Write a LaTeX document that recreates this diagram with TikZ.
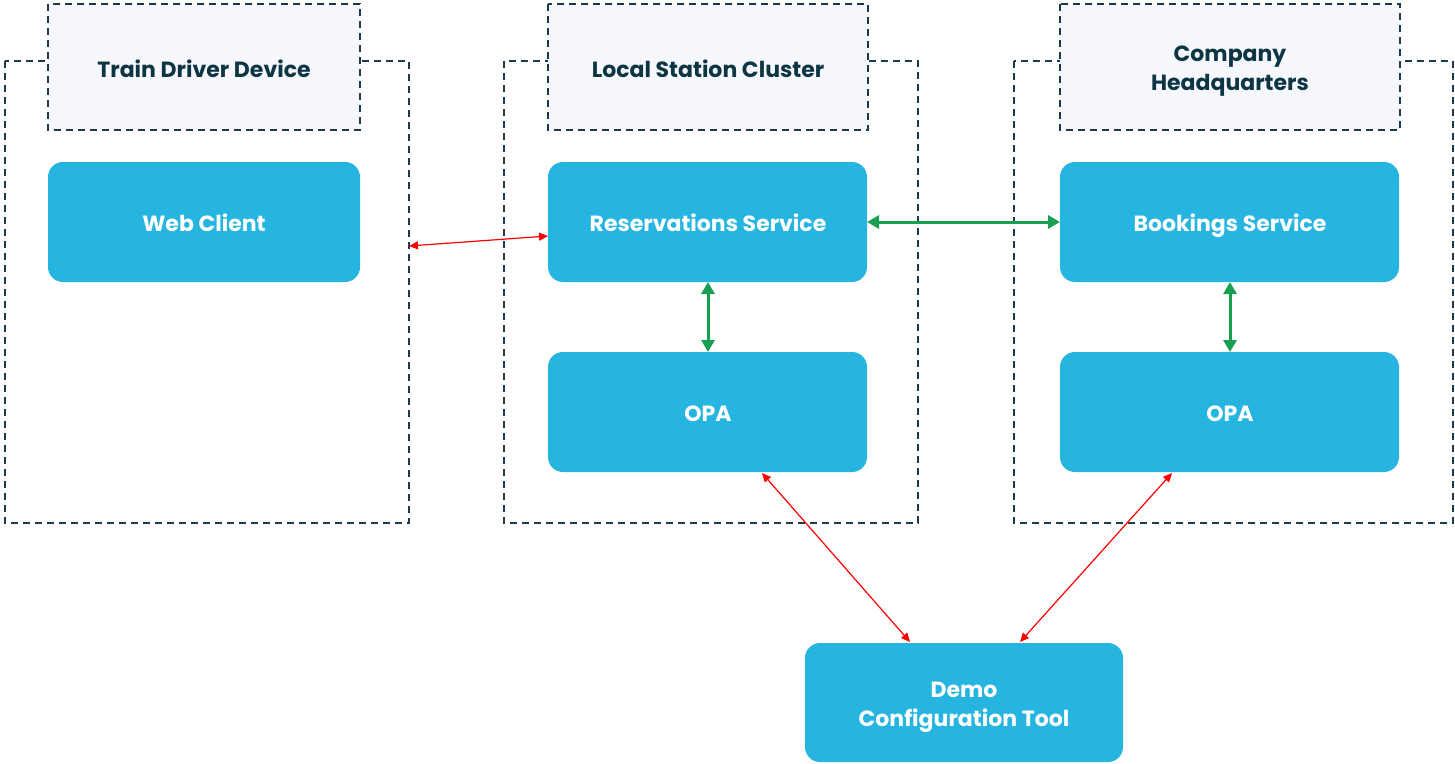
\documentclass[tikz,border=0pt]{standalone}
\usepackage{fontspec}
\setmainfont{Poppins}
\usetikzlibrary{arrows.meta}
\definecolor{boxblue}{HTML}{25B5E0}
\definecolor{darktext}{HTML}{0D3543}
\definecolor{dashcol}{HTML}{1C3A4A}
\definecolor{headfill}{HTML}{F7F8FE}
\definecolor{arrred}{HTML}{FF0000}
\definecolor{arrgreen}{HTML}{18A050}
\begin{document}
\begin{tikzpicture}[x=1pt,y=-1pt,
  container/.style={draw=dashcol,line width=1.6pt,dash pattern=on 7pt off 5pt},
  header/.style={draw=dashcol,fill=headfill,line width=1.6pt,dash pattern=on 7pt off 5pt},
  svc/.style={fill=boxblue,rounded corners=15pt},
  lbl/.style={font=\bfseries\fontsize{22}{29}\selectfont,text=white,align=center,inner sep=0pt},
  hlbl/.style={font=\bfseries\fontsize{22}{29}\selectfont,text=darktext,align=center,inner sep=0pt},
  redarr/.style={draw=arrred,line width=1.2pt,{Triangle[length=9pt,width=8pt]}-{Triangle[length=9pt,width=8pt]}},
  greenarr/.style={draw=arrgreen,line width=3pt,{Triangle[length=12pt,width=13pt]}-{Triangle[length=12pt,width=13pt]}}
]
\useasboundingbox (0,0) rectangle (1455,763);
% containers
\draw[container] (5,61) rectangle (409,523);
\draw[container] (504,61) rectangle (918,523);
\draw[container] (1014,61) rectangle (1453,523);
% headers
\draw[header] (48,4) rectangle (360,130);
\draw[header] (548,4) rectangle (868,130);
\draw[header] (1060,4) rectangle (1400,130);
\node[hlbl,anchor=base] (h1) at (204,77) {Train Driver Device};
\node[hlbl,anchor=base] (h2) at (708,77) {Local Station Cluster};
\node[hlbl] (h3) at (1230,71) {Company\\Headquarters};
% service boxes
\fill[svc] (48,162) rectangle (360,282);
\fill[svc] (548,162) rectangle (867,282);
\fill[svc] (1060,162) rectangle (1399,282);
\fill[svc] (548,352) rectangle (867,472);
\fill[svc] (1060,352) rectangle (1399,472);
\fill[svc] (805,643) rectangle (1123,762);
\node[lbl,anchor=base] (web) at (204,231) {Web Client};
\node[lbl,anchor=base] (res) at (708,231) {Reservations Service};
\node[lbl,anchor=base] (book) at (1230,231) {Bookings Service};
\node[lbl,anchor=base] (opa1) at (708,421) {OPA};
\node[lbl,anchor=base] (opa2) at (1230,421) {OPA};
\node[lbl] (demo) at (964,707) {Demo\\Configuration Tool};
% anchor coordinates
\coordinate (webR) at (409,246);
\coordinate (resL) at (548,236);
\coordinate (resR) at (867,222);
\coordinate (bookL) at (1060,222);
\coordinate (resB) at (708,282);
\coordinate (opa1T) at (708,352);
\coordinate (bookB) at (1230,282);
\coordinate (opa2T) at (1230,352);
\coordinate (opa1B) at (762,473);
\coordinate (opa2B) at (1172,473);
\coordinate (demoL) at (910,642);
\coordinate (demoR) at (1020,642);
% connectors
\draw[redarr] (webR) -- (resL);
\draw[greenarr] (resR) -- (bookL);
\draw[greenarr] (resB) -- (opa1T);
\draw[greenarr] (bookB) -- (opa2T);
\draw[redarr] (opa1B) -- (demoL);
\draw[redarr] (opa2B) -- (demoR);
\end{tikzpicture}
\end{document}
